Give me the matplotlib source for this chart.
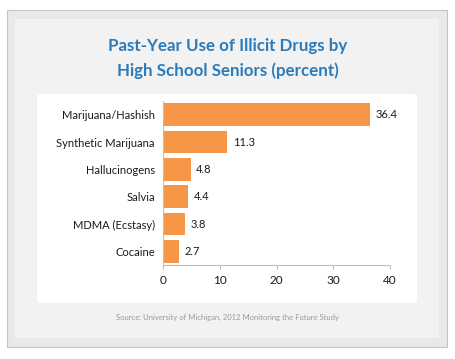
import matplotlib
matplotlib.use("Agg")
import matplotlib.pyplot as plt
from matplotlib.patches import Rectangle, FancyBboxPatch

categories = ["Marijuana/Hashish", "Synthetic Marijuana", "Hallucinogens",
              "Salvia", "MDMA (Ecstasy)", "Cocaine"]
values = [36.4, 11.3, 4.8, 4.4, 3.8, 2.7]
xticks = [0, 10, 20, 30, 40]
title = "Past-Year Use of Illicit Drugs by\nHigh School Seniors (percent)"
source = "Source: University of Michigan, 2012 Monitoring the Future Study"

plt.rcParams['font.family'] = ['Lato', 'DejaVu Sans']

W, H = 455, 359
fig = plt.figure(figsize=(W/100, H/100), dpi=100)
fig.patch.set_facecolor("white")

def fx(x): return x / W
def fy(y): return 1 - y / H

# frame decorations
fig.patches.append(Rectangle((fx(7), fy(347)), fx(440), (347-10)/H,
                             transform=fig.transFigure, facecolor="#e9e9e9",
                             edgecolor="#c4c4c4", lw=0.8, zorder=-3))
fig.patches.append(Rectangle((fx(15), fy(338)), fx(424), (338-19)/H,
                             transform=fig.transFigure, facecolor="#f2f2f2",
                             edgecolor="none", zorder=-2))
fig.patches.append(FancyBboxPatch((fx(37), fy(303)), fx(380), (303-94)/H,
                                  boxstyle="round,pad=0,rounding_size=0.01",
                                  transform=fig.transFigure, facecolor="white",
                                  edgecolor="none", zorder=-1))

ax = fig.add_axes([fx(163.3), fy(265), fx(390-163.3), (265-101)/H])
ax.set_facecolor("none")
ypos = list(range(len(categories)))
bars = ax.barh(ypos, values, height=0.83, color="#f79646", zorder=2)
ax.set_ylim(len(categories)-0.5, -0.5)
ax.set_xlim(0, 40)
ax.set_xticks(xticks)
ax.set_xticklabels([str(t) for t in xticks], fontsize=8.5, color="#1a1a1a")
ax.set_yticks(ypos)
ax.set_yticklabels(categories, fontsize=8, color="#1a1a1a")
ax.tick_params(axis="y", length=0, pad=6)
ax.tick_params(axis="x", length=3, color="#bfbfbf", width=0.8, pad=4)
for s in ["top", "right"]:
    ax.spines[s].set_visible(False)
for s in ["left", "bottom"]:
    ax.spines[s].set_color("#bfbfbf")
    ax.spines[s].set_linewidth(0.8)
for b, v in zip(bars, values):
    ax.annotate(f"{v}", (v, b.get_y() + b.get_height()/2), xytext=(4, 0),
                textcoords="offset points", va="center", ha="left",
                fontsize=8, color="#1a1a1a")

fig.text(0.5, fy(58.5), title, ha="center", va="center", fontsize=12.2,
         fontweight="bold", color="#2b7bba", linespacing=1.55)
fig.text(0.5, fy(317), source, ha="center", va="center", fontsize=5.5,
         color="#9a9a9a")

fig.savefig("out.png", dpi=100)
